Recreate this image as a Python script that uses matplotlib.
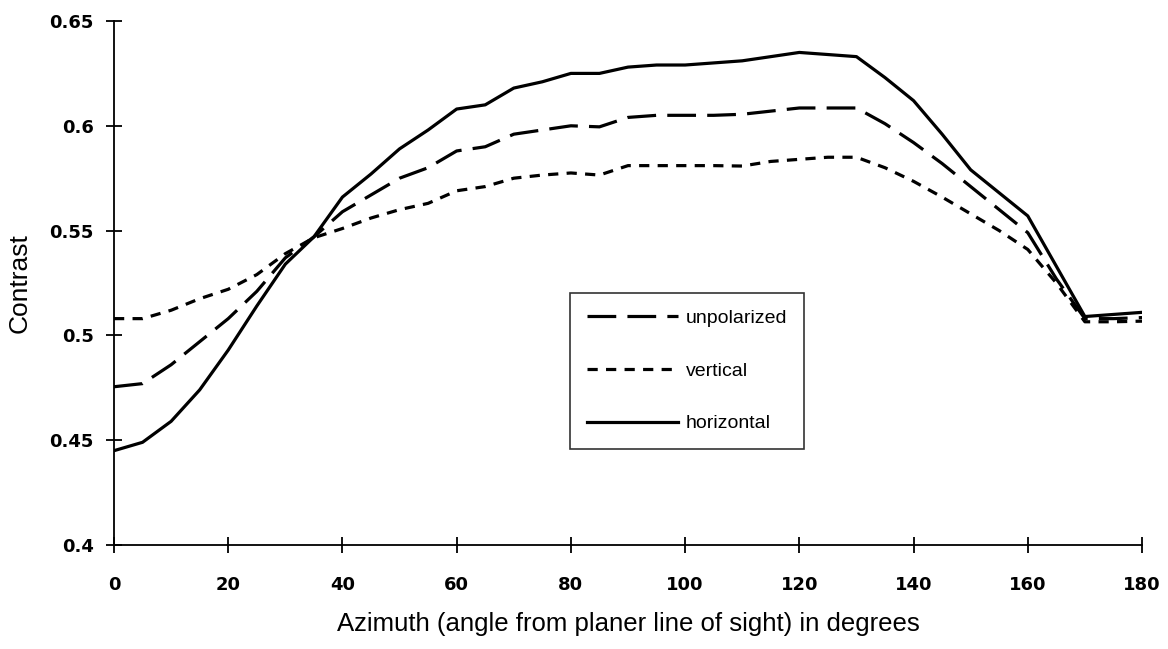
import matplotlib
matplotlib.use("Agg")
import matplotlib.pyplot as plt

azimuth = [0, 5, 10, 15, 20, 25, 30, 35, 40, 45, 50, 55, 60, 65, 70, 75, 80, 85, 90,
           95, 100, 105, 110, 115, 120, 125, 130, 135, 140, 145, 150, 155, 160, 165,
           170, 175, 180]

unpolarized = [0.4755, 0.477, 0.486, 0.497, 0.508, 0.521, 0.537, 0.547, 0.559, 0.567,
               0.575, 0.580, 0.588, 0.590, 0.596, 0.598, 0.600, 0.5995, 0.604, 0.605,
               0.605, 0.605, 0.6055, 0.607, 0.6085, 0.6085, 0.6085, 0.601, 0.592,
               0.582, 0.571, 0.560, 0.549, 0.527, 0.508, 0.508, 0.5085]

vertical = [0.508, 0.508, 0.512, 0.5175, 0.522, 0.529, 0.539, 0.5466, 0.551, 0.556,
            0.560, 0.563, 0.569, 0.571, 0.575, 0.5765, 0.5775, 0.5765, 0.581, 0.581,
            0.581, 0.581, 0.5808, 0.583, 0.584, 0.585, 0.585, 0.580, 0.5735, 0.566,
            0.558, 0.550, 0.541, 0.525, 0.5065, 0.5065, 0.5068]

horizontal = [0.445, 0.449, 0.459, 0.474, 0.493, 0.514, 0.534, 0.547, 0.566, 0.577,
              0.589, 0.598, 0.608, 0.610, 0.618, 0.621, 0.625, 0.625, 0.628, 0.629,
              0.629, 0.630, 0.631, 0.633, 0.635, 0.634, 0.633, 0.623, 0.612, 0.596,
              0.579, 0.568, 0.557, 0.533, 0.509, 0.510, 0.511]

xticks = [0, 20, 40, 60, 80, 100, 120, 140, 160, 180]
yticks = [0.4, 0.45, 0.5, 0.55, 0.6, 0.65]
ytick_labels = ["0.4", "0.45", "0.5", "0.55", "0.6", "0.65"]

plt.rcParams['font.family'] = ['Liberation Sans', 'DejaVu Sans']

fig = plt.figure(figsize=(11.68, 6.49), dpi=100)
ax = fig.add_axes([114/1168, 1 - 545/649, (1142-114)/1168, (545-21)/649])

lw = 2.3
ax.plot(azimuth, unpolarized, color='black', lw=lw, linestyle=(0, (9, 3.5)),
        label='unpolarized')
ax.plot(azimuth, vertical, color='black', lw=lw, linestyle=(0, (3.2, 2.6)),
        label='vertical')
ax.plot(azimuth, horizontal, color='black', lw=lw, linestyle='-',
        label='horizontal')

ax.set_xlim(0, 180)
ax.set_ylim(0.4, 0.65)
ax.set_xticks(xticks)
ax.set_xticklabels([str(v) for v in xticks], fontweight='bold', fontsize=13,
                   family='DejaVu Sans')
ax.set_yticks(yticks)
ax.set_yticklabels(ytick_labels, fontweight='bold', fontsize=13, family='DejaVu Sans')

for s in ['top', 'right']:
    ax.spines[s].set_visible(False)
for s in ['left', 'bottom']:
    ax.spines[s].set_linewidth(1.3)

ax.tick_params(axis='both', direction='inout', length=11, width=1.3)
ax.tick_params(axis='y', pad=9)
ax.tick_params(axis='x', pad=17)

ax.set_xlabel('Azimuth (angle from planer line of sight) in degrees', fontsize=18.5,
              labelpad=13)
ax.set_ylabel('Contrast', fontsize=19, labelpad=13)

leg = ax.legend(loc='upper left', bbox_to_anchor=((570-114)/1028, 1 - (293-21)/524),
                frameon=True, fancybox=False, edgecolor='black', fontsize=14,
                handlelength=4.7, handletextpad=0.4, labelspacing=1.8,
                borderpad=0.85, borderaxespad=0)
leg.get_frame().set_linewidth(1.2)

fig.savefig('out.png', dpi=100)
